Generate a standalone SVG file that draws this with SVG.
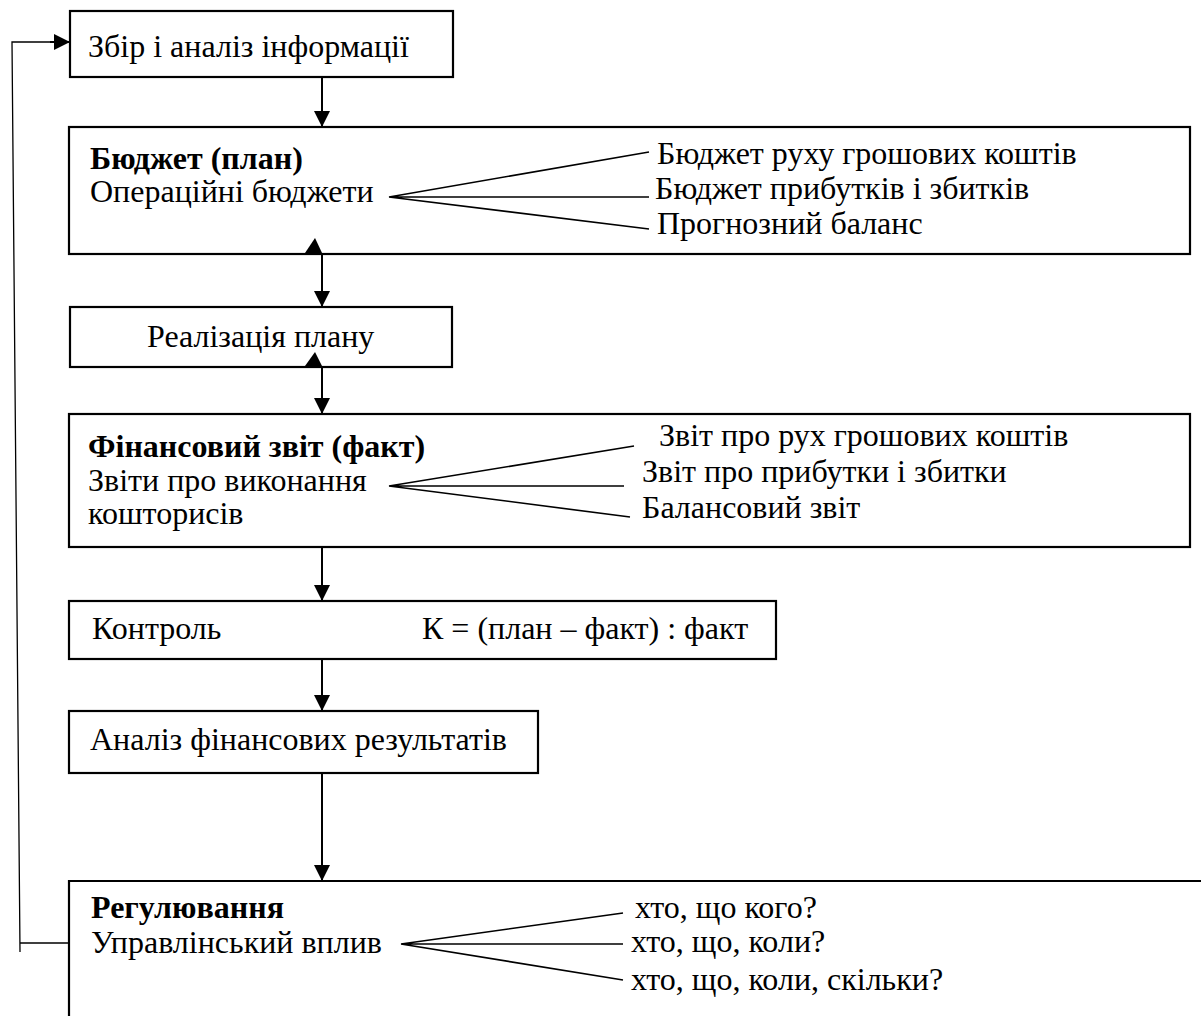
<svg xmlns="http://www.w3.org/2000/svg" width="1201" height="1016" viewBox="0 0 1201 1016">
<style>
.box{fill:#fff;stroke:#000;stroke-width:2.2}
.t{font-family:"Liberation Serif","Times New Roman",serif;font-size:32px;fill:#000}
.b{font-weight:bold}
.c{stroke:#000;stroke-width:2;fill:none}
.f{stroke:#000;stroke-width:1.6;fill:none}
.fb{stroke:#000;stroke-width:1.3;fill:none}
.ah{fill:#000}
</style>
<defs>
<marker id="arr" viewBox="0 0 16 16" refX="16" refY="8" markerWidth="16" markerHeight="16" markerUnits="userSpaceOnUse" orient="auto">
<path d="M0,0 L16,8 L0,16 Z" fill="#000"/>
</marker>
</defs>
<rect width="1201" height="1016" fill="#fff"/>
<g id="node-collect">
<rect class="box" x="70" y="11" width="383" height="66"/>
<text class="t" x="88" y="57">Збір  і аналіз  інформації</text>
</g>
<g id="node-budget">
<rect class="box" x="69" y="127" width="1121" height="127"/>
<text class="t b" x="90" y="169">Бюджет (план)</text>
<text class="t" x="90" y="202">Операційні бюджети</text>
<text class="t" x="657" y="164">Бюджет руху  грошових коштів</text>
<text class="t" x="655" y="199">Бюджет прибутків  і збитків</text>
<text class="t" x="657" y="234">Прогнозний баланс</text>
<path class="f" d="M649,152 L389,197 L649,197 M389,197 L649,229"/>
</g>
<g id="node-realize">
<rect class="box" x="70" y="307" width="382" height="60"/>
<text class="t" x="147" y="347">Реалізація  плану</text>
</g>
<g id="node-report">
<rect class="box" x="69" y="414" width="1121" height="133"/>
<text class="t b" x="88" y="457">Фінансовий звіт (факт)</text>
<text class="t" x="88" y="491">Звіти  про виконання</text>
<text class="t" x="88" y="524">кошторисів</text>
<text class="t" x="659" y="446">Звіт про рух грошових коштів</text>
<text class="t" x="642" y="482">Звіт про прибутки і збитки</text>
<text class="t" x="642" y="518">Балансовий звіт</text>
<path class="f" d="M634,446 L389,486 L624,486 M389,486 L630,517"/>
</g>
<g id="node-control">
<rect class="box" x="69" y="601" width="707" height="58"/>
<text class="t" x="92" y="639">Контроль</text>
<text class="t" x="422" y="639">К = (план – факт) : факт</text>
</g>
<g id="node-analysis">
<rect class="box" x="69" y="711" width="469" height="62"/>
<text class="t" x="90" y="750">Аналіз фінансових результатів</text>
</g>
<g id="node-regulation">
<path class="box" style="fill:none" d="M69,1016 L69,881 L1201,881"/>
<text class="t b" x="91" y="918">Регулювання</text>
<text class="t" x="91" y="953">Управлінський  вплив</text>
<text class="t" x="635" y="918">хто, що  кого?</text>
<text class="t" x="631" y="952">хто, що,  коли?</text>
<text class="t" x="631" y="990">хто, що, коли, скільки?</text>
<path class="f" d="M623,913 L401,944 L623,944 M401,944 L623,980"/>
</g>
<g id="connectors">
<path class="c" d="M322,77 L322,127" marker-end="url(#arr)"/>
<path class="c" d="M322,254 L322,307" marker-end="url(#arr)"/>
<polygon class="ah" points="315,238 305,253 323,255"/>
<path class="c" d="M322,367 L322,414" marker-end="url(#arr)"/>
<polygon class="ah" points="315,352 305,366 323,368"/>
<path class="c" d="M322,547 L322,601" marker-end="url(#arr)"/>
<path class="c" d="M322,659 L322,711" marker-end="url(#arr)"/>
<path class="c" d="M322,773 L322,881" marker-end="url(#arr)"/>
<path class="fb" d="M69,943 L20,943 M20,952 L12,42 L55,42"/>
<path class="c" d="M50,42 L70,42" marker-end="url(#arr)"/>
</g>
</svg>
